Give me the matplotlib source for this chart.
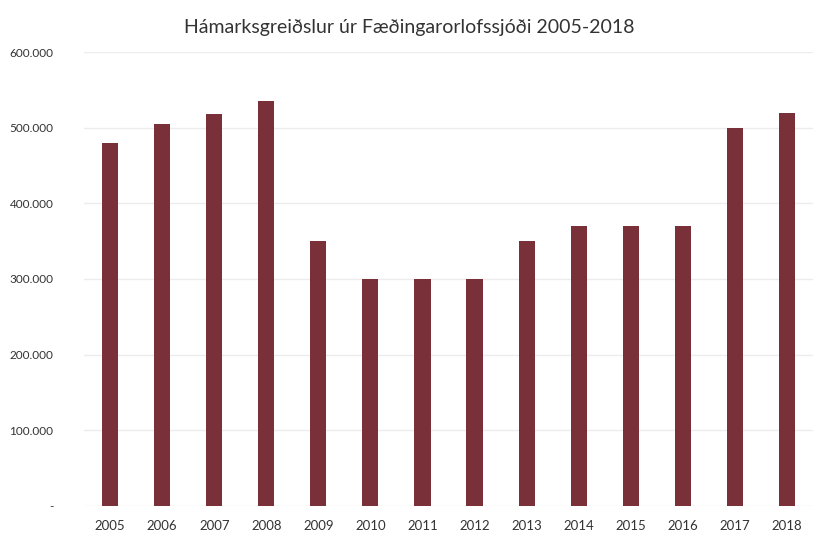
# coding: utf-8

"""
Hámarksgreiðslur úr Fæðingarorlofssjóði 2005-2018
"""

import matplotlib
matplotlib.use("Agg")
import matplotlib.pyplot as plt
from matplotlib.ticker import FuncFormatter

years = ["2005", "2006", "2007", "2008", "2009", "2010", "2011",
         "2012", "2013", "2014", "2015", "2016", "2017", "2018"]
payments = [480000, 505000, 518000, 535000, 350000, 300000, 300000,
            300000, 350000, 370000, 370000, 370000, 500000, 520000]
yticks = [0, 100000, 200000, 300000, 400000, 500000, 600000]

def fmt(v, pos):
	if v == 0: return "-"
	return "{:,.0f}".format(v).replace(",", ".")

def main():
	plt.rcParams['font.family'] = ['Lato', 'DejaVu Sans']
	fig = plt.figure(figsize=(8.19, 5.4), dpi=100)
	ax = fig.add_axes([0.1026, 0.063, 0.89, 0.8407])

	ax.bar(range(len(years)), payments, width=0.31, color="#7a3038", zorder=2)

	ax.set_xlim(-0.5, len(years) - 0.5)
	ax.set_ylim(0, 600000)
	ax.set_yticks(yticks)
	ax.yaxis.set_major_formatter(FuncFormatter(fmt))
	ax.set_xticks(range(len(years)))
	ax.set_xticklabels(years)
	ax.grid(axis="y", color="#ececec", linewidth=1, zorder=0)
	for s in ax.spines.values(): s.set_visible(False)
	ax.tick_params(axis="both", length=0, colors="#333333", labelsize=9.5)
	ax.tick_params(axis="y", pad=22, labelsize=8.5)
	ax.tick_params(axis="x", pad=10)

	fig.suptitle("Hámarksgreiðslur úr Fæðingarorlofssjóði 2005-2018",
		x=0.5, y=0.965, fontsize=14, color="#333333")

	fig.savefig("out.png", dpi=100)

if __name__ == "__main__":
	main()
